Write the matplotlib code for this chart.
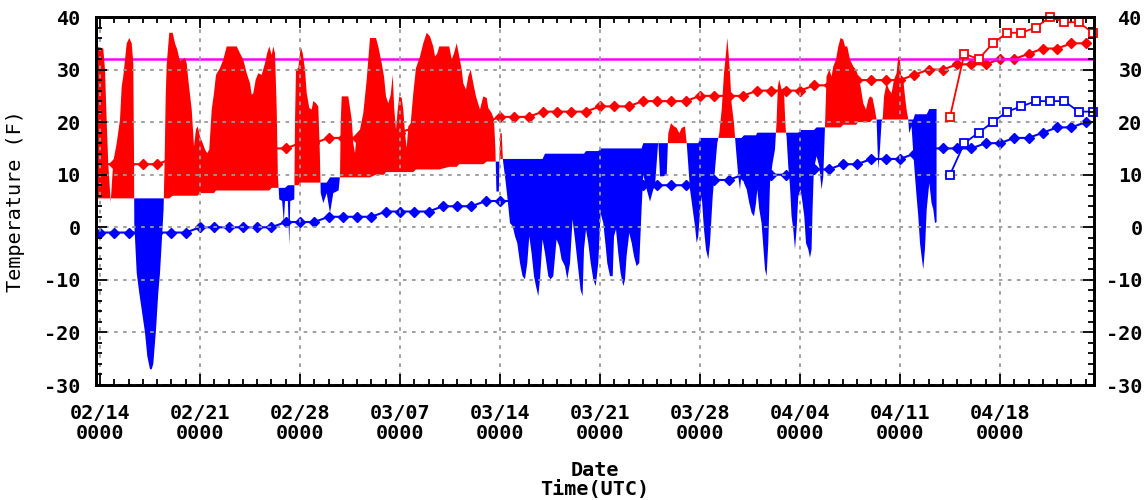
import numpy as np
import matplotlib
matplotlib.use("Agg")
import matplotlib.pyplot as plt
from matplotlib.ticker import MultipleLocator

plt.rcParams['font.family'] = ['DejaVu Sans Mono']
plt.rcParams['font.weight'] = 'bold'
plt.rcParams['font.size'] = 14.5
plt.rcParams['axes.unicode_minus'] = False

# observed temperature, days since 02/14 0000 UTC, deg F
obs_day = [-0.28, 0.23, 0.35, 0.47, 0.58, 0.75, 0.93, 1.17, 1.4, 1.52, 1.63, 1.87, 2.05, 2.22, 2.33, 2.38,
           2.4, 2.57, 2.75, 2.92, 3.15, 3.31, 3.5, 3.62, 3.73, 3.92, 4.08, 4.2, 4.32, 4.45, 4.52,
           4.6, 4.67, 4.85, 5.09, 5.25, 5.41, 5.6, 5.79, 5.95, 6.07, 6.18, 6.42, 6.58, 6.72, 6.84,
           7.0, 7.19, 7.35, 7.51, 7.65, 7.82, 7.98, 8.12, 8.4, 8.63, 8.87, 9.57, 9.8, 10.03, 10.27,
           10.5, 10.62, 10.73, 10.9, 11.08, 11.32, 11.55, 11.7, 11.85, 12.02, 12.13, 12.25, 12.37,
           12.45, 12.55, 12.75, 12.87, 12.95, 13.15, 13.25, 13.32, 13.6, 13.65, 13.72, 13.88, 14.05,
           14.19, 14.35, 14.47, 14.65, 14.82, 14.93, 15.12, 15.28, 15.38, 15.45, 15.63, 15.87, 16.1,
           16.33, 16.7, 16.8, 16.85, 16.92, 17.38, 17.62, 17.73, 17.85, 17.97, 18.2, 18.43, 18.67,
           18.9, 19.32, 19.48, 19.72, 19.88, 20.02, 20.18, 20.35, 20.49, 20.6, 20.72, 20.84, 20.95,
           21.12, 21.23, 21.35, 21.47, 21.58, 21.75, 21.93, 22.12, 22.4, 22.63, 22.87, 23.1, 23.33,
           23.45, 23.6, 23.75, 24.45, 24.62, 24.78, 24.97, 25.15, 25.32, 25.43, 25.62, 25.78, 25.95,
           26.13, 26.32, 26.6, 26.83, 27.07, 27.18, 27.42, 27.58, 27.68, 27.75, 27.92, 27.97, 28.02,
           28.12, 28.2, 28.23, 28.35, 28.51, 28.7, 28.89, 29.05, 29.21, 29.4, 29.58, 29.75, 29.91,
           30.05, 30.21, 30.38, 30.52, 30.68, 30.8, 30.98, 31.15, 31.38, 31.55, 31.73, 31.96, 32.15,
           32.31, 32.55, 32.71, 32.9, 33.08, 33.25, 33.48, 33.64, 33.78, 33.88, 34.02, 34.18, 34.35,
           34.53, 34.7, 34.88, 35.04, 35.23, 35.42, 35.51, 35.7, 35.89, 35.98, 36.12, 36.28, 36.44,
           36.63, 36.75, 36.86, 37.05, 37.22, 37.38, 37.56, 37.75, 37.91, 38.03, 38.27, 38.5, 38.73,
           38.85, 39.08, 39.2, 39.43, 39.67, 39.78, 39.97, 40.18, 40.37, 40.55, 40.72, 40.95, 41.07,
           41.12, 41.3, 41.49, 41.65, 41.77, 41.88, 42.0, 42.12, 42.28, 42.42, 42.58, 42.7, 42.89,
           43.05, 43.21, 43.35, 43.52, 43.68, 43.82, 43.91, 44.0, 44.1, 44.21, 44.38, 44.47, 44.52,
           44.68, 44.8, 44.91, 45.08, 45.27, 45.45, 45.62, 45.78, 45.92, 46.01, 46.15, 46.31, 46.43,
           46.55, 46.66, 46.78, 46.9, 47.08, 47.25, 47.36, 47.45, 47.55, 47.71, 47.87, 47.97, 48.02,
           48.06, 48.18, 48.3, 48.41, 48.53, 48.65, 48.76, 48.88, 49.04, 49.18, 49.3, 49.42, 49.58,
           49.7, 49.81, 49.88, 49.97, 50.16, 50.35, 50.51, 50.63, 50.75, 50.86, 51.05, 51.21, 51.33,
           51.52, 51.68, 51.84, 52.03, 52.15, 52.31, 52.5, 52.73, 52.92, 53.08, 53.24, 53.43, 53.62,
           53.78, 53.9, 54.08, 54.24, 54.36, 54.48, 54.6, 54.71, 54.8, 54.88, 55.06, 55.23, 55.41,
           55.58, 55.76, 55.88, 55.99, 56.11, 56.23, 56.35, 56.46, 56.58, 56.64, 56.81, 56.93, 57.05,
           57.16, 57.28, 57.4, 57.51, 57.63, 57.75, 57.87, 58.05, 58.21, 58.33, 58.45, 58.56]
obs_temp = [34.4, 34.0, 30.0, 20.0, 12.0, 4.8, 12.5, 16.0, 20.5, 26.8, 28.7, 35.0, 36.0, 35.0, 31.2, 14.0,
            0.8, -8.7, -12.5, -15.7, -20.0, -24.5, -27.0, -27.0, -26.0, -19.5, -12.5, -8.7, -3.0, 3.4, 12.0,
            25.0, 31.0, 37.0, 37.0, 35.0, 33.8, 31.6, 31.9, 32.2, 31.2, 28.1, 22.4, 15.4, 18.6, 19.2,
            17.3, 16.0, 14.8, 14.1, 14.8, 22.4, 25.5, 29.0, 30.3, 31.9, 34.4, 34.4, 33.1, 31.9, 29.3,
            27.4, 25.2, 25.5, 28.1, 29.3, 29.0, 31.2, 33.1, 34.4, 32.8, 34.4, 33.1, 22.4,
            10.0, 5.3, 5.0, 1.0, 5.0, 5.0, -3.3, 5.0, 5.3, 20.0, 30.0, 30.3, 34.4,
            33.1, 30.0, 25.5, 22.7, 22.4, 24.0, 23.6, 23.0, 15.0, 6.5, 4.6, 6.5, 2.7,
            6.5, 7.0, 9.7, 20.0, 24.9, 24.9, 20.5, 16.0, 14.1, 17.9, 18.6, 21.7, 28.1,
            36.0, 36.0, 34.4, 31.2, 28.7, 24.9, 23.6, 25.2, 29.0, 22.4, 18.6, 22.4, 24.9,
            24.6, 22.4, 17.9, 15.1, 19.2, 19.8, 25.5, 30.3, 32.5, 35.0, 37.0, 36.3, 34.4,
            32.5, 33.0, 34.4, 34.4, 31.9, 33.1, 35.0, 32.5, 30.0, 27.4, 26.2, 28.7, 30.0,
            27.4, 24.9, 22.4, 24.9, 24.6, 22.7, 21.7, 20.5, 14.8, 6.8, 6.8, 14.0, 17.9,
            17.9, 13.0, 12.2, 9.7, 5.9, 0.8, 0.2, -1.7, -3.0, -6.8, -9.3, -9.9, -6.8,
            -1.7, -4.9, -9.3, -11.2, -13.1, -9.9, -2.3, -4.9, -9.3, -9.9, -9.3, -2.3, -3.6,
            -6.1, -7.4, -9.9, -6.8, 1.5, -2.3, -8.0, -11.9, -13.1, -4.2, -0.4, -3.0, -6.8,
            -9.9, -11.2, -6.8, 2.7, 0.8, -4.2, -6.8, -9.3, -9.3, -1.7, -0.4, -4.9, -8.7,
            -11.2, -10.0, -5.5, -1.1, -3.0, -5.5, -7.4, -6.8, 3.4, 10.0, 7.2, 4.9, 7.2,
            7.8, 16.5, 9.7, 9.7, 10.0, 17.9, 19.8, 19.2, 18.9, 17.9, 18.9, 19.2, 16.0,
            14.1, 7.2, 3.4, 0.2, -3.0, -1.7, 3.0, 5.9, -0.4, -4.2, -6.1, -3.0, 5.9,
            11.0, 16.0, 17.9, 22.4, 29.3, 33.1, 36.0, 33.1, 29.3, 23.6, 19.8, 16.5, 14.8,
            9.7, 7.2, 10.3, 8.4, 7.2, 4.6, 2.7, 2.1, 4.6, 7.2, 3.4, 0.8, -3.6,
            -8.0, -9.3, -3.0, 8.4, 12.2, 14.8, 20.0, 26.8, 28.1, 26.2, 26.5, 20.0, 18.0,
            17.3, 11.6, 7.8, 2.1, -0.4, -4.2, -0.4, 5.9, 7.2, 4.6, 2.1, -3.0, -4.2,
            -5.8, -4.2, 3.4, 11.0, 13.5, 11.6, 7.2, 9.7, 19.2, 28.7, 30.0, 28.7, 30.6,
            31.9, 34.4, 36.0, 35.7, 34.4, 34.4, 31.9, 30.6, 30.0, 28.7, 26.8, 23.6, 22.4,
            24.3, 24.9, 24.6, 22.4, 20.5, 11.0, 15.0, 20.0, 21.0, 24.9, 27.4, 26.2, 25.5,
            28.1, 29.3, 32.5, 32.2, 27.4, 28.1, 24.9, 22.4, 20.5, 17.9, 19.2, 14.1, 9.7,
            5.9, 2.1, -3.0, -5.5, -8.0, -4.0, 3.4, 8.4, 4.6, 3.4, 0.8, 1.0]

# daily normals (one per day starting 02/14)
norm_day = list(range(70))
norm_hi = [12, 12, 12, 12, 12, 13, 13, 13, 14, 14, 14, 14, 15, 15, 16, 16, 17, 17, 17, 18,
           18, 18, 19, 19, 19, 20, 20, 20, 21, 21, 21, 22, 22, 22, 22, 23, 23, 23, 24, 24,
           24, 24, 25, 25, 25, 25, 26, 26, 26, 26, 27, 27, 27, 28, 28, 28, 28, 29, 30, 30,
           31, 31, 31, 32, 32, 33, 34, 34, 35, 35]
norm_lo = [-1, -1, -1, -1, -1, -1, -1, 0, 0, 0, 0, 0, 0, 1, 1, 1, 2, 2, 2, 2,
           3, 3, 3, 3, 4, 4, 4, 5, 5, 5, 5, 6, 6, 6, 7, 7, 7, 7, 8, 8,
           8, 8, 9, 9, 9, 10, 10, 10, 10, 11, 11, 11, 12, 12, 13, 13, 13, 14, 15, 15,
           15, 15, 16, 16, 17, 17, 18, 19, 19, 20]

# forecast highs / lows
fc_day = [59.5, 60.5, 61.5, 62.5, 63.5, 64.5, 65.5, 66.5, 67.5, 68.5, 69.5]
fc_hi = [21, 33, 32, 35, 37, 37, 38, 40, 39, 39, 37]
fc_lo = [10, 16, 18, 20, 22, 23, 24, 24, 24, 22, 22]

FREEZING = 32
tick_days = [0, 7, 14, 21, 28, 35, 42, 49, 56, 63]
tick_labels = ['02/14\n0000', '02/21\n0000', '02/28\n0000', '03/07\n0000', '03/14\n0000',
               '03/21\n0000', '03/28\n0000', '04/04\n0000', '04/11\n0000', '04/18\n0000']

fig = plt.figure(figsize=(11.46, 5.0), dpi=100)
ax = fig.add_axes([96 / 1146, 1 - 385 / 500, 998 / 1146, 368 / 500])

t = np.array(obs_day)
v = np.array(obs_temp)
hi = np.array(norm_hi, dtype=float)
lo = np.array(norm_lo, dtype=float)
idx = np.clip(np.floor(t).astype(int), 0, len(hi) - 1)
base = (hi[idx] + lo[idx]) / 2.0

# normals sit under the fill, forecast on top
ax.plot(norm_day, norm_hi, color='red', marker='D', ms=5, lw=1.5, zorder=1)
ax.plot(norm_day, norm_lo, color='blue', marker='D', ms=5, lw=1.5, zorder=1)
ax.axhline(FREEZING, color='#ff00ff', lw=1.8, zorder=1.5)

ax.fill_between(t, v, base, where=v >= base, interpolate=True, color='red', lw=0, zorder=2)
ax.fill_between(t, v, base, where=v <= base, interpolate=True, color='blue', lw=0, zorder=2)

ax.plot(fc_day, fc_hi, color='red', marker='s', ms=5.5, mfc='white', mew=1.3, lw=1.3,
        zorder=4, clip_on=False)
ax.plot(fc_day, fc_lo, color='blue', marker='s', ms=5.5, mfc='white', mew=1.3, lw=1.3,
        zorder=4, clip_on=False)

ax.set_xlim(-0.28, 69.58)
ax.set_ylim(-30, 40)
ax.set_xticks(tick_days)
ax.set_xticklabels(tick_labels, linespacing=1.1)
ax.xaxis.set_minor_locator(MultipleLocator(1))
ax.set_yticks(range(-30, 41, 10))
ax.yaxis.set_minor_locator(MultipleLocator(2))

ax.set_axisbelow(False)
ax.grid(True, which='major', color='#999999', linestyle=(0, (2, 3)), linewidth=1.3)
for s in ax.spines.values():
    s.set_linewidth(2)

ax.tick_params(which='both', direction='in', top=True, right=False, width=1.3)
ax.tick_params(which='major', length=8)
ax.tick_params(which='minor', length=4)
ax.tick_params(axis='x', pad=13.5)
ax.tick_params(axis='y', pad=11)

ax2 = ax.twinx()
ax2.set_ylim(-30, 40)
ax2.set_yticks(range(-30, 41, 10))
ax2.yaxis.set_minor_locator(MultipleLocator(2))
ax2.tick_params(which='both', direction='in', width=1.3, pad=35)
ax2.tick_params(which='major', length=8)
ax2.tick_params(which='minor', length=4)
for lab in ax2.get_yticklabels():
    lab.set_horizontalalignment('right')
for s in ax2.spines.values():
    s.set_linewidth(2)

ax.set_ylabel('Temperature (F)', labelpad=14)
fig.text(595 / 1146, 1 - 480 / 500, 'Date\nTime(UTC)', ha='center', va='center', linespacing=1.05)

fig.savefig('out.png', dpi=100)
